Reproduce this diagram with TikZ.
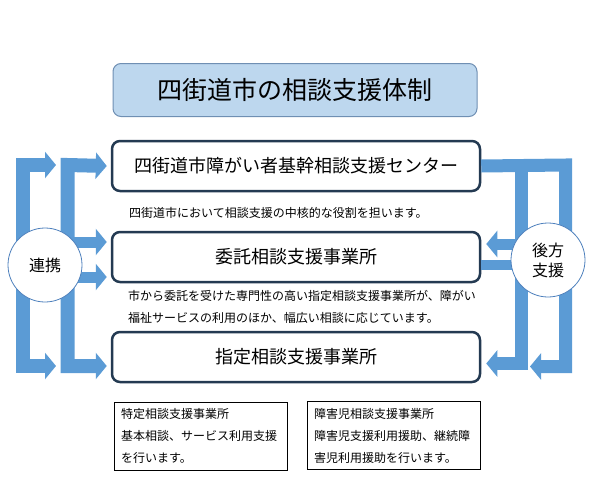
\documentclass[tikz,border=0pt]{standalone}
\usepackage{fontspec}
\setmainfont{Noto Sans CJK JP}
\usepackage{tikz}
\usetikzlibrary{arrows.meta}
\definecolor{arrowblue}{HTML}{5B9BD5}
\definecolor{boxline}{HTML}{243A52}
\definecolor{titlefill}{HTML}{BDD7EE}
\definecolor{titleline}{HTML}{6F8FB3}
\definecolor{ringline}{HTML}{4F81BD}

\begin{document}
\begin{tikzpicture}[x=1pt, y=-1pt,
    mainbox/.style={draw=boxline, line width=2.5pt, rounded corners=8pt, fill=white,
        minimum width=368pt, minimum height=50pt, font=\fontsize{18}{20}\selectfont},
    notebox/.style={draw=black, line width=1pt, minimum width=173pt, minimum height=68pt,
        text width=159pt, align=left, inner xsep=7pt, font=\fontsize{12}{22}\selectfont},
    ring/.style={shape=circle, draw=ringline, line width=0.8pt, fill=white,
        minimum size=74pt, inner sep=0pt, font=\fontsize{16}{20}\selectfont},
    block/.style={arrowblue, line width=14pt, line join=miter},
    tip/.style={-{Triangle[length=11pt, width=26pt]}},
    tips/.style={{Triangle[length=11pt, width=26pt]}-{Triangle[length=11pt, width=26pt]}}]
        \useasboundingbox (0, 0) rectangle (592, 493);

        % title
        \node[draw=titleline, line width=1pt, rounded corners=8pt, fill=titlefill,
            minimum width=364pt, minimum height=53pt, font=\fontsize{25}{28}\selectfont]
            (title) at (295, 90) {四街道市の相談支援体制};

        % the three offices
        \node[mainbox] (center) at (296, 166) {四街道市障がい者基幹相談支援センター};
        \node[mainbox] (consign) at (296, 257) {委託相談支援事業所};
        \node[mainbox] (desig) at (296, 357) {指定相談支援事業所};

        \node[anchor=west, inner sep=0pt, font=\fontsize{12}{14}\selectfont]
            (roleA) at (129, 213) {四街道市において相談支援の中核的な役割を担います。};
        \node[anchor=north west, inner sep=0pt, align=left, font=\fontsize{12}{22}\selectfont]
            (roleB) at (128, 290) {市から委託を受けた専門性の高い指定相談支援事業所が、障がい\\
            福祉サービスの利用のほか、幅広い相談に応じています。};

        \node[notebox] (specA) at (200.5, 436) {特定相談支援事業所\\基本相談、サービス利用支援\\を行います。};
        \node[notebox] (specB) at (393.5, 435.5) {障害児相談支援事業所\\障害児支援利用援助、継続障\\害児利用援助を行います。};

        % left side arrows
        \draw[block, tips] (56, 165) -- (22.5, 165) -- (22.5, 366) -- (56, 366);
        \draw[block, tips] ([xshift=-4pt]center.west) -- (67.5, 165) -- (67.5, 366)
            -- ([xshift=-4pt]desig.west |- 0, 366);
        \draw[block, line width=11pt, tip] (67.5, 242) -- ([xshift=-4pt]consign.west |- 0, 242);
        \draw[block, line width=11pt, tip] (67.5, 277) -- ([xshift=-4pt]consign.west |- 0, 277);

        % right side arrows
        \draw[block, line width=13pt, tip] (center.east) -- (565.5, 165) -- (565.5, 366.5) -- (530, 366.5);
        \draw[block, line width=13pt, tip] (521.5, 165) -- (521.5, 363.5)
            -- ([xshift=5pt]desig.east |- 0, 363.5);
        \draw[block, line width=11pt, tip] (521.5, 244) -- ([xshift=5pt]consign.east |- 0, 244);
        \draw[block, line width=10pt] (consign.east |- 0, 265) -- (521.5, 265);

        \node[ring] (link) at (45, 265) {連携};
        \node[ring, align=center, font=\fontsize{16}{20}\selectfont] (backup) at (548, 260) {後方\\支援};
    \end{tikzpicture}
\end{document}
